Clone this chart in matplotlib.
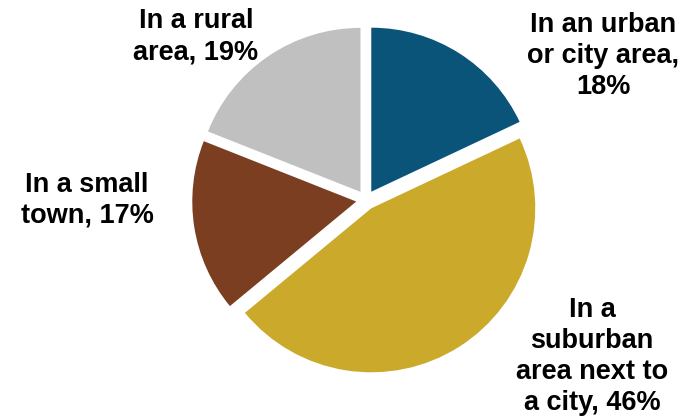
import matplotlib
matplotlib.use("Agg")
import matplotlib.pyplot as plt

labels = ["In an urban\nor city area,\n18%",
          "In a\nsuburban\narea next to\na city, 46%",
          "In a small\ntown, 17%",
          "In a rural\narea, 19%"]
values = [18, 46, 17, 19]
colors = ["#0B5479", "#CBA92B", "#7B3E21", "#C0C0C0"]
# label anchor: x center (px), first-line baseline (px from top)
label_pos = [(603, 32), (592, 317), (87, 192), (196, 28)]
line_step = 31.0  # px between baselines

W, H = 691, 418
dpi = 100
fig = plt.figure(figsize=(W / dpi, H / dpi), dpi=dpi)
ax = fig.add_axes([0, 0, 1, 1])
scale = 164.0
cx, cy = 366.0, 200.0

ax.pie(values, colors=colors, startangle=90, counterclock=False,
       explode=[0.06] * 4, radius=1.0,
       wedgeprops=dict(linewidth=0))
ax.set_aspect("auto")
ax.set_xlim(-cx / scale, (W - cx) / scale)
ax.set_ylim(-(H - cy) / scale, cy / scale)
ax.axis("off")

for lab, (px, py) in zip(labels, label_pos):
    for i, line in enumerate(lab.split("\n")):
        fig.text(px / W, 1 - (py + i * line_step) / H, line,
                 ha="center", va="baseline",
                 fontsize=19.5, fontweight="bold", family="Liberation Sans")

fig.savefig("out.png", dpi=dpi)
